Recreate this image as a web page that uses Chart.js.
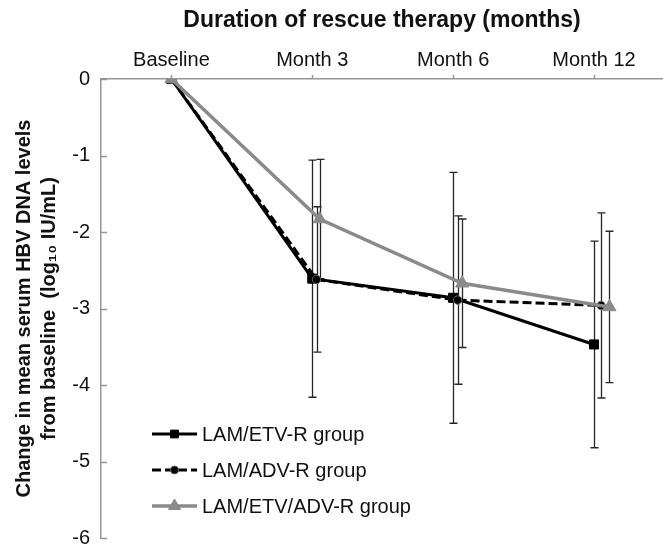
<!DOCTYPE html>
<html>
<head>
<meta charset="utf-8">
<script src="https://cdn.jsdelivr.net/npm/chart.js@4/dist/chart.umd.min.js"></script>
<style>
  html, body { margin: 0; padding: 0; background: #fff; }
</style>
</head>
<body>
<canvas id="rescueChart" width="663" height="545"></canvas>
<script>
// time points (top axis)
var categories = ["Baseline", "Month 3", "Month 6", "Month 12"]
var yTicks = [0, -1, -2, -3, -4, -5, -6]

// mean change in HBV DNA (log10 IU/mL) and the error bar half width
var etvMean = [0, -2.61, -2.86, -3.47]
var etvErr  = [0, 1.55, 1.64, 1.35]
var advMean = [0, -2.62, -2.89, -2.96]
var advErr  = [0, 0.95, 1.10, 1.21]
var bothMean = [0, -1.83, -2.67, -2.98]
var bothErr  = [0, 0.78, 0.84, 0.99]

var seriesNames = ["LAM/ETV-R group", "LAM/ADV-R group", "LAM/ETV/ADV-R group"]

// small horizontal shift so the error bars do not sit on top of each other
var shift = {
    etv: [0, 0, 0, 0],
    adv: [0, 0.03, 0.032, 0.05],
    both: [0, 0.052, 0.064, 0.11]
}

var grey = "#8a8a8a"
var axisGrey = "#959595"
var fontFam = "'Liberation Sans', Arial, Helvetica, sans-serif"

function points(values, offs){
    return values.map(function(v, i){ return {x: i + offs[i], y: v} })
}

// error bars are drawn behind the lines
var errorBars = {
    id: "errorBars",
    beforeDatasetsDraw: function(chart){
        var ctx = chart.ctx
        var ys = chart.scales.y
        ctx.save()
        ctx.strokeStyle = "#262626"
        ctx.lineWidth = 1.3
        chart.data.datasets.forEach(function(ds, di){
            var meta = chart.getDatasetMeta(di)
            meta.data.forEach(function(pt, i){
                var e = ds.errors[i]
                if(!e) return
                var v = ds.data[i].y
                var top = ys.getPixelForValue(v + e)
                var bot = ys.getPixelForValue(v - e)
                var x = Math.round(pt.x) + 0.5
                ctx.beginPath()
                ctx.moveTo(x, top); ctx.lineTo(x, bot)
                ctx.moveTo(x - 4, top); ctx.lineTo(x + 4, top)
                ctx.moveTo(x - 4, bot); ctx.lineTo(x + 4, bot)
                ctx.stroke()
            })
        })
        ctx.restore()
    }
}

// small tick marks: up from the top axis, inward from the left axis
var tickMarks = {
    id: "tickMarks",
    beforeDatasetsDraw: function(chart){
        var ctx = chart.ctx
        var area = chart.chartArea
        var sx = chart.scales.x, sy = chart.scales.y
        ctx.save()
        ctx.strokeStyle = axisGrey
        ctx.lineWidth = 1.5
        ctx.beginPath()
        sx.ticks.forEach(function(t){
            var px = Math.round(sx.getPixelForValue(t.value)) + 0.5
            ctx.moveTo(px, area.top - 4); ctx.lineTo(px, area.top)
        })
        sy.ticks.forEach(function(t){
            var py = Math.round(sy.getPixelForValue(t.value)) + 0.5
            ctx.moveTo(area.left, py); ctx.lineTo(area.left + 6, py)
        })
        ctx.stroke()
        ctx.restore()
    }
}

// legend sits inside the plot, bottom left
var innerLegend = {
    id: "innerLegend",
    afterDraw: function(chart){
        var ctx = chart.ctx
        var area = chart.chartArea
        var x0 = area.left + 51
        var x1 = x0 + 45
        var y0 = area.bottom - 104
        ctx.save()
        chart.data.datasets.forEach(function(ds, i){
            var y = y0 + i * 36
            ctx.strokeStyle = ds.borderColor
            ctx.lineWidth = ds.borderWidth
            ctx.setLineDash(ds.borderDash || [])
            ctx.beginPath()
            ctx.moveTo(x0, y); ctx.lineTo(x1, y)
            ctx.stroke()
            ctx.setLineDash([])
            ctx.fillStyle = ds.pointBackgroundColor
            ctx.strokeStyle = ds.pointBorderColor
            ctx.lineWidth = ds.pointBorderWidth
            Chart.helpers.drawPoint(ctx, {
                pointStyle: ds.pointStyle,
                radius: ds.legendRadius,
                borderWidth: ds.pointBorderWidth,
                rotation: 0
            }, (x0 + x1) / 2, y)
            ctx.fillStyle = "#111"
            ctx.font = "20px " + fontFam
            ctx.textBaseline = "middle"
            ctx.textAlign = "left"
            ctx.fillText(seriesNames[i], x1 + 5, y + 1)
        })
        ctx.restore()
    }
}

var ctx = document.getElementById("rescueChart").getContext("2d")
var chart = new Chart(ctx, {
    type: "line",
    data: {
        datasets: [
            {
                label: seriesNames[0],
                data: points(etvMean, shift.etv),
                errors: etvErr,
                borderColor: "#000",
                borderWidth: 3,
                pointStyle: "rect",
                pointRadius: 6.4,
                legendRadius: 5.5,
                pointBackgroundColor: "#000",
                pointBorderColor: "#000",
                pointBorderWidth: 1,
                order: 2
            },
            {
                label: seriesNames[1],
                data: points(advMean, shift.adv),
                errors: advErr,
                borderColor: "#000",
                borderWidth: 3,
                borderDash: [9, 4],
                pointStyle: "circle",
                pointRadius: 4.2,
                legendRadius: 4,
                pointBackgroundColor: "#000",
                pointBorderColor: "#666",
                pointBorderWidth: 1,
                order: 1
            },
            {
                label: seriesNames[2],
                data: points(bothMean, shift.both),
                errors: bothErr,
                borderColor: grey,
                borderWidth: 3.5,
                pointStyle: "triangle",
                pointRadius: 7.5,
                legendRadius: 7,
                pointBackgroundColor: grey,
                pointBorderColor: grey,
                pointBorderWidth: 1,
                order: 0
            }
        ]
    },
    options: {
        responsive: false,
        animation: false,
        devicePixelRatio: 1,
        layout: { autoPadding: false, padding: { top: 0, left: 0, right: 0, bottom: 7 } },
        font: { family: fontFam },
        plugins: {
            legend: { display: false },
            tooltip: { enabled: false }
        },
        scales: {
            x: {
                type: "linear",
                position: "top",
                min: -0.5,
                max: 3.49,
                afterBuildTicks: function(scale){
                    scale.ticks = categories.map(function(c, i){ return {value: i} })
                },
                afterFit: function(scale){
                    scale.height = 79
                    scale.paddingLeft = 0
                    scale.paddingRight = 0
                },
                ticks: {
                    autoSkip: false,
                    maxRotation: 0,
                    padding: 7,
                    color: "#111",
                    font: { size: 20, family: fontFam },
                    callback: function(v){ return categories[v] }
                },
                grid: { display: false, drawTicks: false },
                border: { display: true, color: axisGrey, width: 1.5 },
                title: {
                    display: true,
                    text: "Duration of rescue therapy (months)",
                    color: "#111",
                    font: { size: 23, weight: "bold", family: fontFam },
                    padding: { top: 7, bottom: 0 }
                }
            },
            y: {
                min: yTicks[yTicks.length - 1],
                max: yTicks[0],
                afterBuildTicks: function(scale){
                    scale.ticks = yTicks.map(function(v){ return {value: v} })
                },
                afterFit: function(scale){
                    scale.width = 101
                    scale.paddingTop = 0
                    scale.paddingBottom = 0
                },
                ticks: {
                    padding: 11,
                    color: "#111",
                    font: { size: 20, family: fontFam }
                },
                grid: { display: false, drawTicks: false },
                border: { display: true, color: axisGrey, width: 1.5 },
                title: {
                    display: true,
                    text: ["Change in mean serum HBV DNA levels", "from baseline  (log\u2081\u2080 IU/mL)"],
                    color: "#111",
                    font: { size: 20, weight: "bold", family: fontFam, lineHeight: 1.25 },
                    padding: { top: 11.5, bottom: 0 }
                }
            }
        }
    },
    plugins: [errorBars, tickMarks, innerLegend]
})
</script>
</body>
</html>
